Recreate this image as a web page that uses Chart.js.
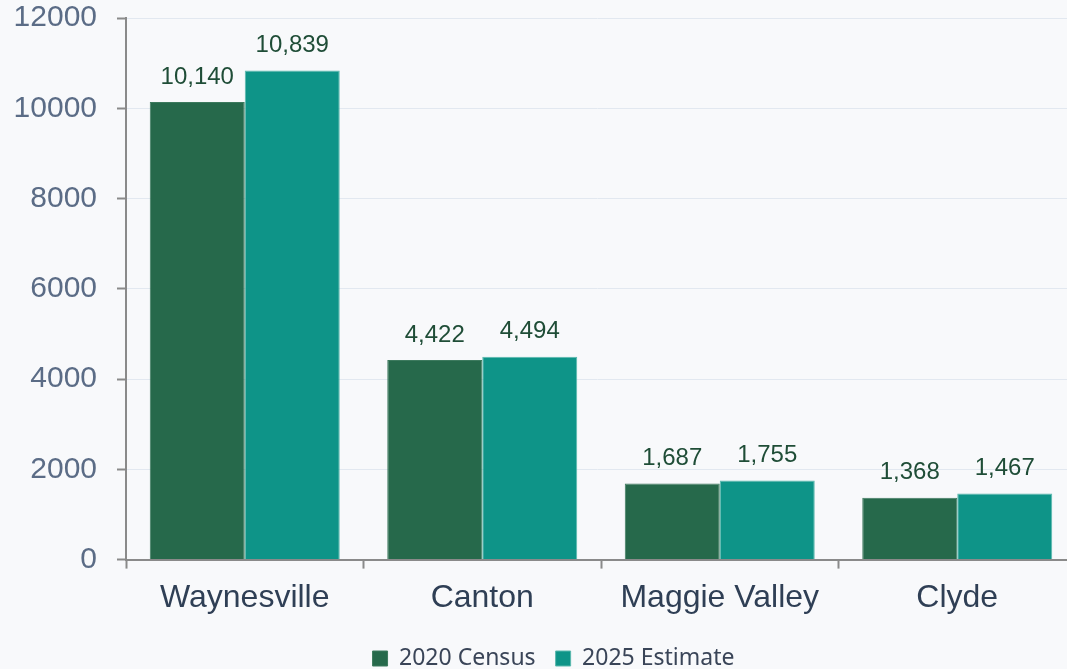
<!DOCTYPE html>
<html>
<head>
<meta charset="utf-8">
<script src="https://cdn.jsdelivr.net/npm/chart.js@4"></script>
<style>
  html, body { margin: 0; padding: 0; background: #f8f9fb; }
  #chart { display: block; }
</style>
</head>
<body>
<canvas id="chart" width="1067" height="669"></canvas>
<script>
// ── Data ──────────────────────────────────────────
const towns = ['Waynesville', 'Canton', 'Maggie Valley', 'Clyde'];
const census2020 = [10140, 4422, 1687, 1368];
const estimate2025 = [10839, 4494, 1755, 1467];
const yTicks = [0, 2000, 4000, 6000, 8000, 10000, 12000];

const axisGray = '#8a8a8a';

// value labels above each bar
const barLabels = {
  id: 'barLabels',
  afterDatasetsDraw(chart) {
    const ctx = chart.ctx;
    ctx.save();
    ctx.font = "24px 'Liberation Sans', Arial, sans-serif";
    ctx.fillStyle = '#1f4d37';
    ctx.textAlign = 'center';
    ctx.textBaseline = 'bottom';
    chart.data.datasets.forEach((ds, i) => {
      chart.getDatasetMeta(i).data.forEach((bar, j) => {
        ctx.fillText(ds.data[j].toLocaleString('en-US'), bar.x, bar.y - 13);
      });
    });
    ctx.restore();
  }
};

const bgFill = {
  id: 'bgFill',
  beforeDraw(chart) {
    const ctx = chart.ctx;
    ctx.save();
    ctx.fillStyle = '#f8f9fb';
    ctx.fillRect(0, 0, chart.width, chart.height);
    ctx.restore();
  }
};

// original: legend a bit right of centre, plot runs ~9px past the right edge
const layoutNudge = {
  id: 'layoutNudge',
  afterLayout(chart) {
    if (chart.legend) {
      chart.legend.left += 20;
      chart.legend.right += 20;
    }
    const x = chart.scales.x;
    x.right += 9;
    x.width += 9;
    x.configure();
    chart.chartArea.right += 9;
    chart.chartArea.width += 9;
  }
};

new Chart(document.getElementById('chart'), {
  type: 'bar',
  data: {
    labels: towns,
    datasets: [
      {
        label: '2020 Census',
        data: census2020,
        backgroundColor: '#26694b',
        borderColor: '#3d7a5e',
        borderWidth: 1,
        categoryPercentage: 0.8,
        barPercentage: 1.0
      },
      {
        label: '2025 Estimate',
        data: estimate2025,
        backgroundColor: '#0e9488',
        borderColor: '#5ab8ad',
        borderWidth: 1,
        categoryPercentage: 0.8,
        barPercentage: 1.0
      }
    ]
  },
  options: {
    responsive: false,
    animation: false,
    layout: { padding: { left: 0, top: 0, right: 0, bottom: -11 } },
    plugins: {
      legend: {
        position: 'bottom',
        labels: {
          boxWidth: 15,
          boxHeight: 15,
          padding: 20,
          color: '#3a4558',
          font: { family: "'Noto Sans', 'Open Sans', sans-serif", size: 23 }
        }
      },
      tooltip: { enabled: false }
    },
    scales: {
      x: {
        grid: {
          display: true,
          drawOnChartArea: false,
          tickLength: 9,
          tickColor: axisGray,
          tickWidth: 2
        },
        border: { color: axisGray, width: 2 },
        ticks: {
          color: '#2f3f55',
          padding: 10,
          font: { family: "'Liberation Sans', Arial, sans-serif", size: 32 }
        }
      },
      y: {
        min: 0,
        max: 12000,
        afterBuildTicks: axis => { axis.ticks = yTicks.map(v => ({ value: v })); },
        afterFit: axis => { axis.paddingTop = 18; axis.width = 126; },
        grid: {
          color: '#e2e8f0',
          tickColor: axisGray,
          tickLength: 9,
          tickWidth: 2
        },
        border: { color: axisGray, width: 2 },
        ticks: {
          color: '#5b6c86',
          padding: 20,
          callback: v => String(v),
          font: { family: "'Liberation Sans', Arial, sans-serif", size: 30 }
        }
      }
    }
  },
  plugins: [bgFill, barLabels, layoutNudge]
});
</script>
</body>
</html>
